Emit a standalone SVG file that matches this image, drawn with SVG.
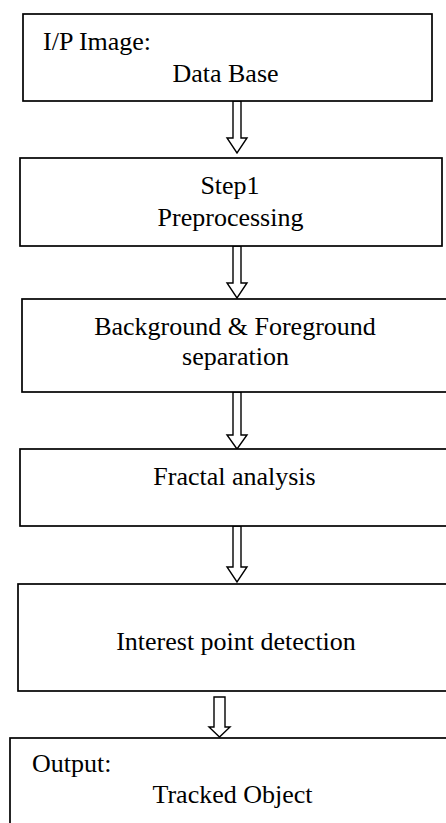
<svg xmlns="http://www.w3.org/2000/svg" width="446" height="823" viewBox="0 0 446 823">
<style>
.box{fill:#fff;stroke:#000;stroke-width:1.7}
.arr{fill:#fff;stroke:#000;stroke-width:1.4;stroke-linejoin:miter}
text{font-family:"Liberation Serif","Times New Roman",serif;font-size:26px;fill:#000}
.c{text-anchor:middle}
</style>
<rect width="446" height="823" fill="#fff"/>
<g id="connectors">
<polygon class="arr" points="233,101 241,101 241,138 247,138 237,153 227,138 233,138"/>
<polygon class="arr" points="233,246 241,246 241,283 247,283 237,298 227,283 233,283"/>
<polygon class="arr" points="233,392 241,392 241,435 247,435 237,449 227,435 233,435"/>
<polygon class="arr" points="233,526 241,526 241,567 247,567 237,582 227,567 233,567"/>
<polygon class="arr" points="214,697 225,697 225,727 230,727 219.5,737 209,727 214,727"/>
</g>
<g id="n1">
<rect class="box" x="23" y="14" width="409" height="87"/>
<text x="43" y="50">I/P Image:</text>
<text class="c" x="225.5" y="82">Data Base</text>
</g>
<g id="n2">
<rect class="box" x="20" y="158" width="422" height="88"/>
<text class="c" x="230" y="194">Step1</text>
<text class="c" x="230.5" y="226">Preprocessing</text>
</g>
<g id="n3">
<rect class="box" x="22" y="299" width="440" height="93"/>
<text class="c" x="235" y="335">Background &amp; Foreground</text>
<text class="c" x="235.5" y="365">separation</text>
</g>
<g id="n4">
<rect class="box" x="20" y="449" width="440" height="77"/>
<text class="c" x="234.5" y="485">Fractal analysis</text>
</g>
<g id="n5">
<rect class="box" x="18" y="584" width="440" height="107"/>
<text class="c" x="236" y="650">Interest point detection</text>
</g>
<g id="n6">
<rect class="box" x="10" y="738" width="450" height="100"/>
<text x="32" y="772">Output:</text>
<text class="c" x="232.5" y="803">Tracked Object</text>
</g>
</svg>
